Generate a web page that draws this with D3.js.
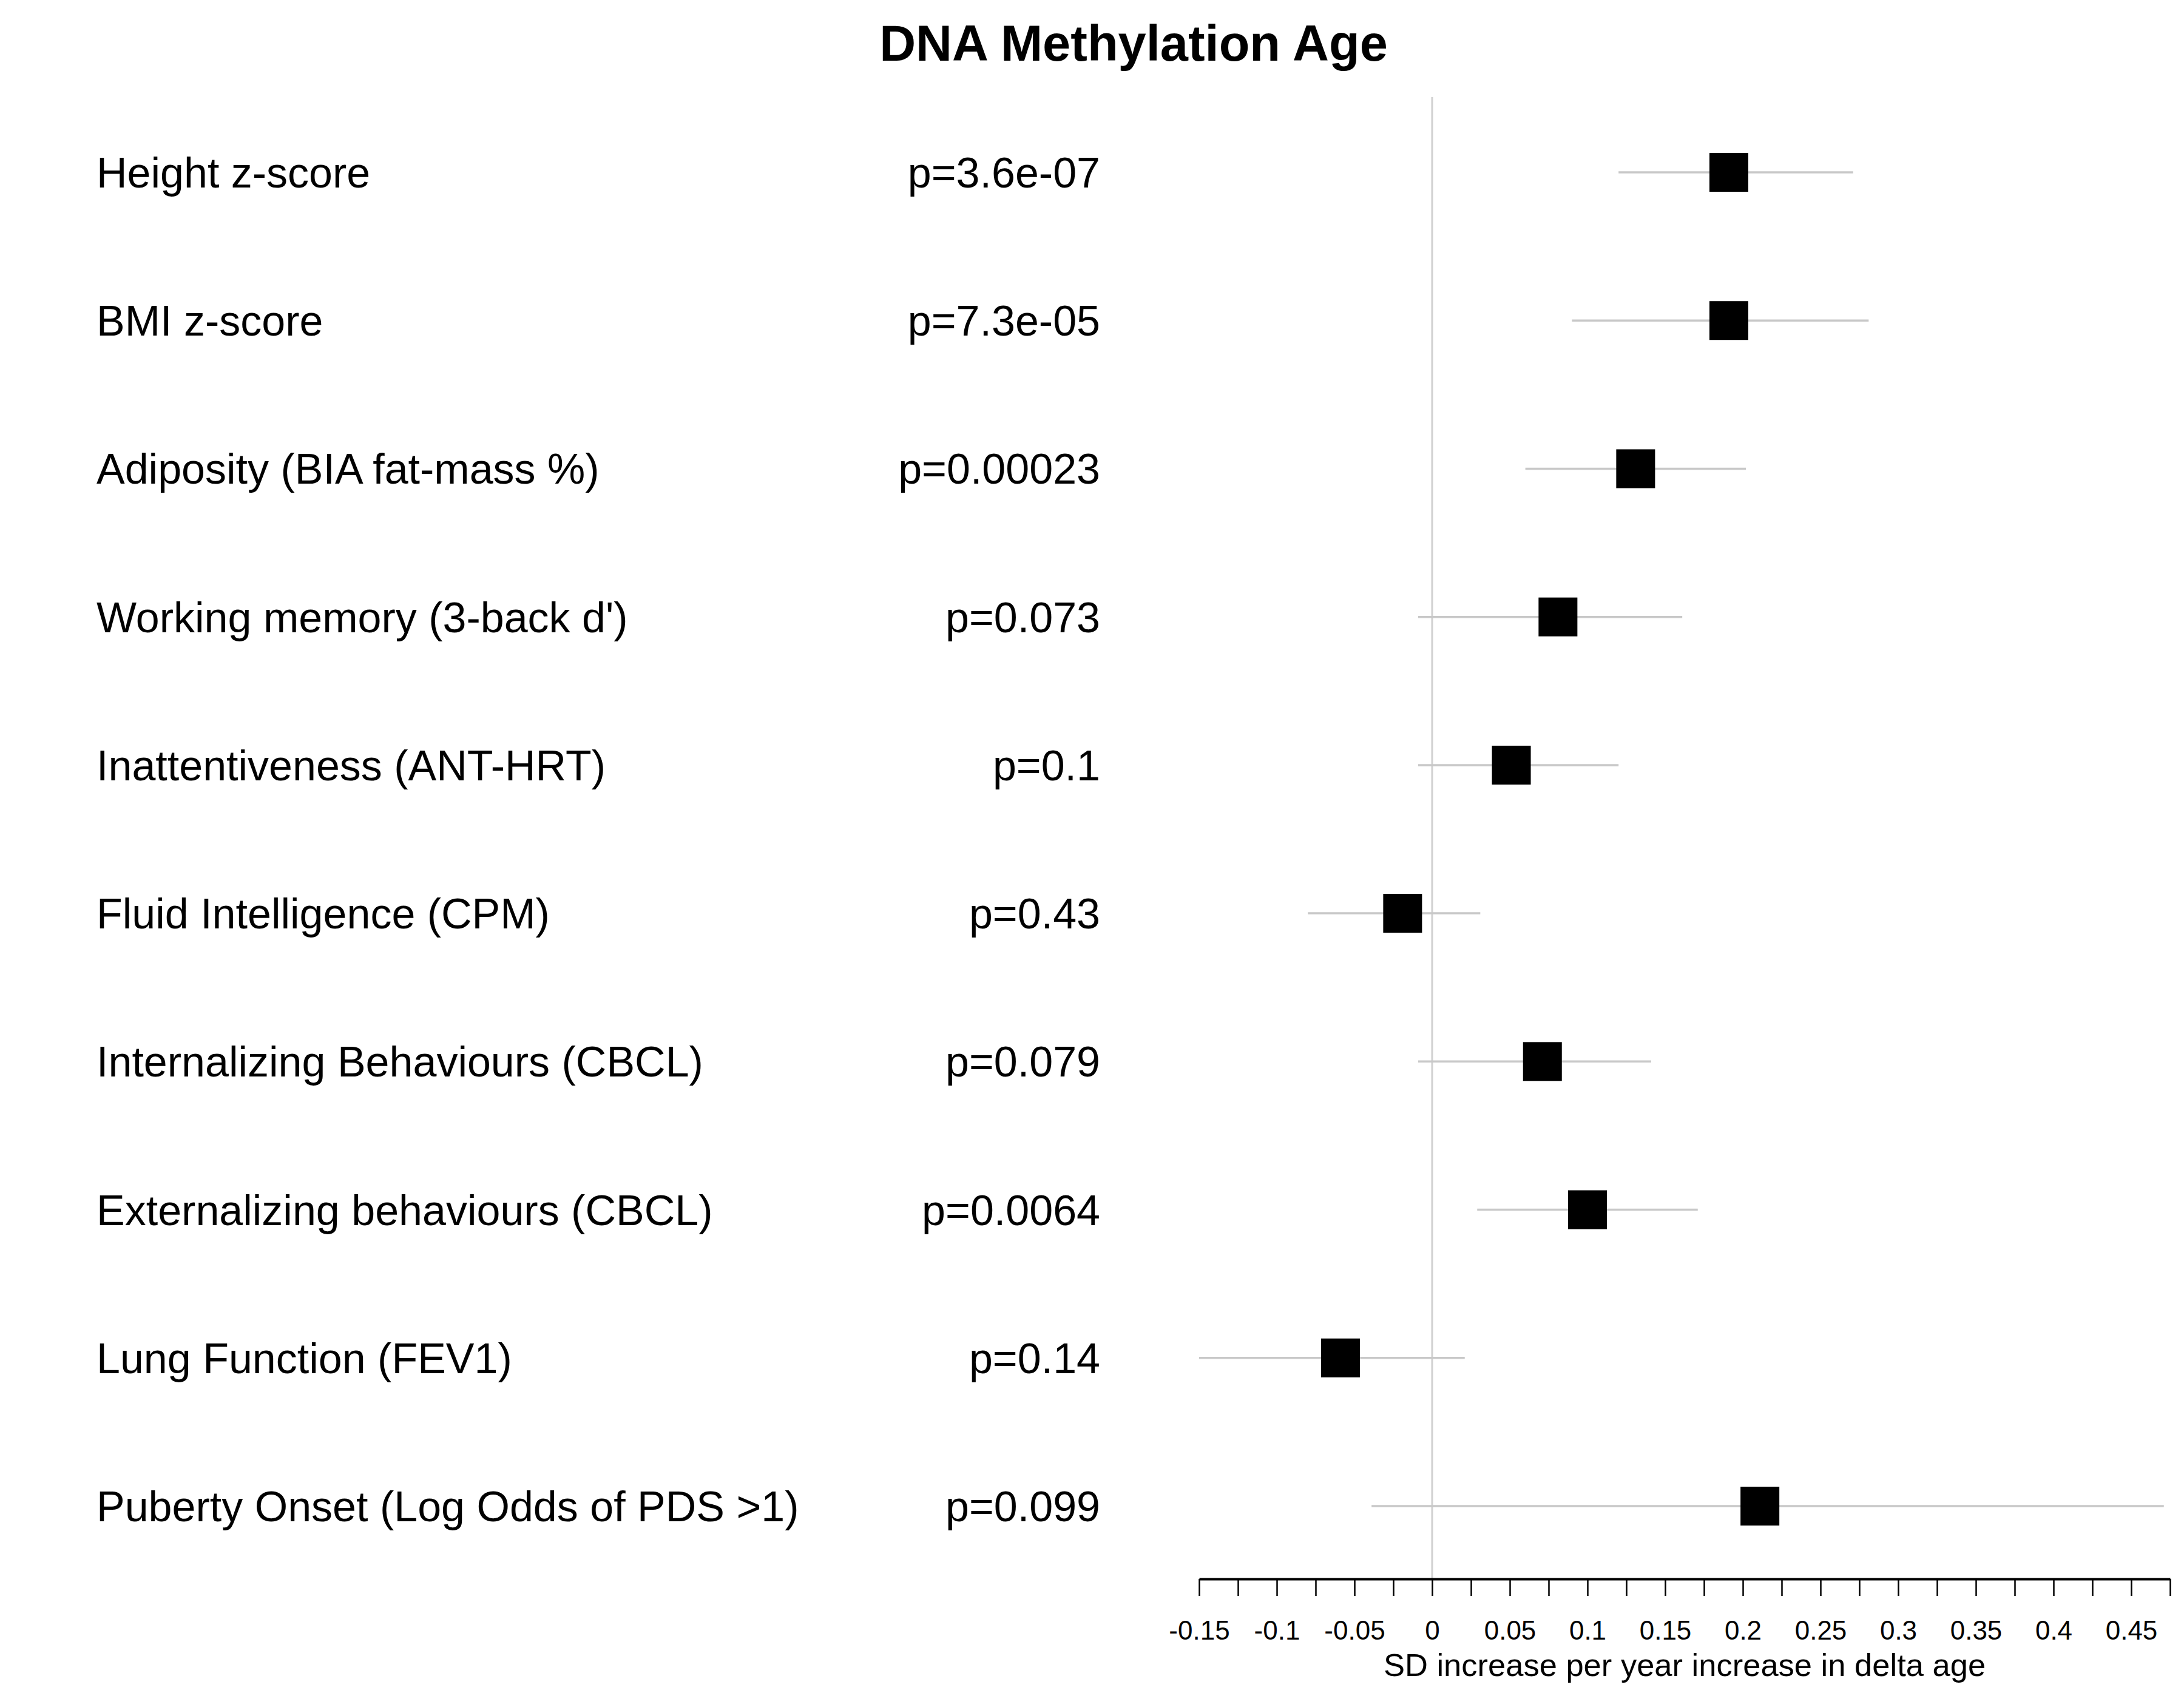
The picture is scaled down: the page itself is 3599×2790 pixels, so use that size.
<!DOCTYPE html>
<html>
<head>
<meta charset="utf-8">
<script src="https://cdn.jsdelivr.net/npm/d3@7"></script>
<style>
  html, body { margin: 0; padding: 0; background: #ffffff; }
  svg { display: block; }
</style>
</head>
<body>
<svg id="chart" width="3599" height="2790"></svg>
<script>
// ---- data ----
const categories = [
  "Height z-score",
  "BMI z-score",
  "Adiposity (BIA fat-mass %)",
  "Working memory (3-back d')",
  "Inattentiveness (ANT-HRT)",
  "Fluid Intelligence (CPM)",
  "Internalizing Behaviours (CBCL)",
  "Externalizing behaviours (CBCL)",
  "Lung Function (FEV1)",
  "Puberty Onset (Log Odds of PDS >1)"
];
const pLabels = ["p=3.6e-07","p=7.3e-05","p=0.00023","p=0.073","p=0.1","p=0.43","p=0.079","p=0.0064","p=0.14","p=0.099"];
const estimate = [0.191, 0.191, 0.131, 0.081, 0.051, -0.019, 0.071, 0.100, -0.059, 0.211];
const lowerCI  = [0.120, 0.090, 0.060, -0.009, -0.009, -0.080, -0.009, 0.029, -0.150, -0.039];
const upperCI  = [0.271, 0.281, 0.202, 0.161, 0.120, 0.031, 0.141, 0.171, 0.021, 0.471];
const tickValuesAll = [-0.15,-0.125,-0.1,-0.075,-0.05,-0.025,0,0.025,0.05,0.075,0.1,0.125,0.15,0.175,0.2,0.225,0.25,0.275,0.3,0.325,0.35,0.375,0.4,0.425,0.45,0.475];
const tickLabelValues = [-0.15,-0.1,-0.05,0,0.05,0.1,0.15,0.2,0.25,0.3,0.35,0.4,0.45];
const tickLabels = ["-0.15","-0.1","-0.05","0","0.05","0.1","0.15","0.2","0.25","0.3","0.35","0.4","0.45"];
const titleText = "DNA Methylation Age";
const xTitle = "SD increase per year increase in delta age";

// ---- layout ----
const FONT = "'Liberation Sans', Arial, Helvetica, sans-serif";
const svg = d3.select("#chart");

const x = d3.scaleLinear().domain([-0.15, 0.475]).range([1976, 3576]);
const y = d3.scalePoint().domain(categories).range([284, 2482]).padding(0);
const axisY = 2602;
const markerSize = 64;

// title
svg.append("text")
  .attr("x", 1868).attr("y", 100)
  .attr("text-anchor", "middle")
  .attr("font-family", FONT).attr("font-weight", "bold")
  .attr("font-size", 83).attr("fill", "#000")
  .text(titleText);

// zero reference line
svg.append("line")
  .attr("x1", x(0)).attr("x2", x(0))
  .attr("y1", 160).attr("y2", axisY)
  .attr("stroke", "#d0d0d0").attr("stroke-width", 3);

const rows = categories.map((c, i) => ({
  cat: c, p: pLabels[i], est: estimate[i], lo: lowerCI[i], hi: upperCI[i]
}));

// labels
svg.append("g").selectAll("text").data(rows).join("text")
  .attr("x", 159).attr("y", d => y(d.cat) + 25)
  .attr("font-family", FONT).attr("font-size", 70).attr("fill", "#000")
  .text(d => d.cat);

svg.append("g").selectAll("text").data(rows).join("text")
  .attr("x", 1813).attr("y", d => y(d.cat) + 25)
  .attr("text-anchor", "end")
  .attr("font-family", FONT).attr("font-size", 70).attr("fill", "#000")
  .text(d => d.p);

// CI lines
svg.append("g").selectAll("line").data(rows).join("line")
  .attr("x1", d => x(d.lo)).attr("x2", d => x(d.hi))
  .attr("y1", d => y(d.cat)).attr("y2", d => y(d.cat))
  .attr("stroke", "#c8c8c8").attr("stroke-width", 3.5);

// markers
svg.append("g").selectAll("rect").data(rows).join("rect")
  .attr("x", d => x(d.est) - markerSize / 2)
  .attr("y", d => y(d.cat) - markerSize / 2)
  .attr("width", markerSize).attr("height", markerSize)
  .attr("fill", "#000");

// x axis
const labelMap = new Map(tickLabelValues.map((v, i) => [v.toFixed(3), tickLabels[i]]));
const axis = d3.axisBottom(x)
  .tickValues(tickValuesAll)
  .tickFormat(d => labelMap.get(d.toFixed(3)) || "")
  .tickSizeInner(28).tickSizeOuter(0).tickPadding(41);

const gx = svg.append("g").attr("transform", `translate(0,${axisY})`).call(axis);
gx.select(".domain").attr("stroke", "#000").attr("stroke-width", 4);
gx.selectAll(".tick line").attr("stroke", "#000").attr("stroke-width", 2.5);
gx.selectAll(".tick text")
  .attr("font-family", FONT).attr("font-size", 44).attr("fill", "#000");

// x axis title
svg.append("text")
  .attr("x", (x.range()[0] + x.range()[1]) / 2).attr("y", 2762)
  .attr("text-anchor", "middle")
  .attr("font-family", FONT).attr("font-size", 52.5).attr("fill", "#000")
  .text(xTitle);
</script>
</body>
</html>
